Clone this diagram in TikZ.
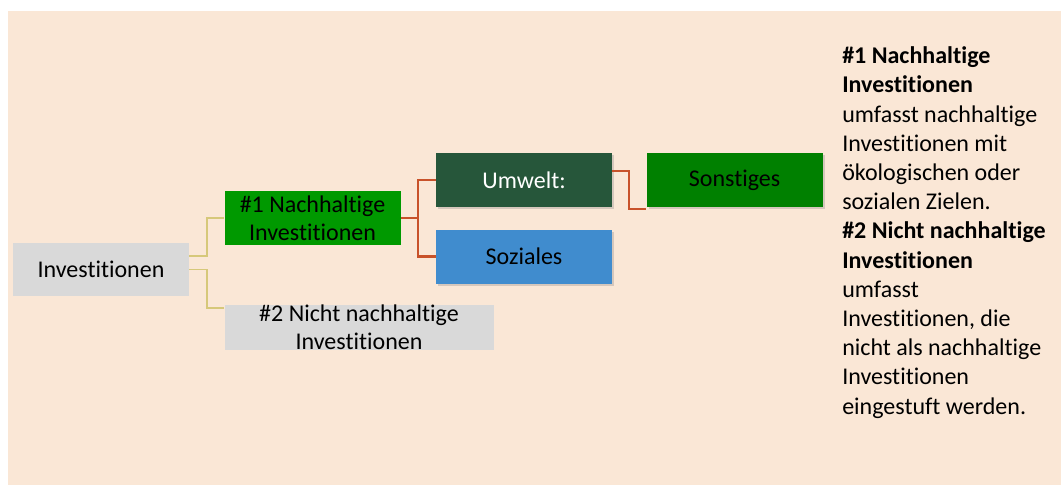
\documentclass[tikz,border=0pt]{standalone}
\usepackage{fontspec}
\setmainfont{Carlito}[Ligatures=NoCommon]
\usetikzlibrary{positioning,shadows}

\definecolor{bg}{RGB}{250,231,214}
\definecolor{grey}{RGB}{217,217,217}
\definecolor{nachgreen}{RGB}{0,153,0}
\definecolor{umwgreen}{RGB}{38,86,58}
\definecolor{sozblue}{RGB}{64,140,206}
\definecolor{sonsgreen}{RGB}{0,128,0}
\definecolor{khaki}{RGB}{214,200,122}
\definecolor{rust}{RGB}{200,82,42}

\begin{document}
\begin{tikzpicture}[x=0.75pt,y=-0.75pt,
    box/.style={align=center,inner sep=0pt,minimum width=132pt,minimum height=40.5pt,font=\fontsize{18}{21}\selectfont},
    shade/.style={drop shadow={opacity=0.3,shadow xshift=1.5pt,shadow yshift=-1.5pt}},
    linea/.style={khaki,line width=1.3pt},
    lineb/.style={rust,line width=1.7pt}]
    \useasboundingbox (0,0) rectangle (1061,485);
    \fill[bg] (8,11) rectangle (1061,485);

    \draw
        node[box,fill=grey,minimum height=40pt] (inv) at (101,269.5) {Investitionen}
        node[box,fill=nachgreen,right=26.25pt of inv,yshift=38.6pt] (nach) {\#1 Nachhaltige\\Investitionen}
        node[box,fill=grey,minimum width=201.75pt,minimum height=33.75pt,below right=44.25pt and 0pt of nach.south west] (nicht) {\#2 Nicht nachhaltige\\Investitionen}

        node[box,shade,fill=umwgreen,text=white,right=26.25pt of nach,yshift=28.5pt] (umw) {Umwelt:}
        node[box,shade,fill=sozblue,below=16.5pt of umw] (soz) {Soziales}
        node[box,shade,fill=sonsgreen,right=25.5pt of umw] (sons) {Sonstiges}

        node[align=left,anchor=north west,inner sep=0pt,font=\fontsize{18}{21.9}\selectfont] (info) at (842,46.5)
            {\textbf{\#1 Nachhaltige}\\\textbf{Investitionen}\\umfasst nachhaltige\\Investitionen mit\\ökologischen oder\\sozialen Zielen.\\
             \textbf{\#2 Nicht nachhaltige}\\\textbf{Investitionen}\\umfasst\\Investitionen, die\\nicht als nachhaltige\\Investitionen\\eingestuft werden.}
    ;
    \draw[linea] ([yshift=10pt]inv.east) -- ++(18,0) |- (nach.west);
    \draw[linea] (inv.east) -- ++(18,0) |- ([yshift=-3pt]nicht.north west);

    \draw[lineb] (nach.east) -- ++(17,0) |- (umw.west);
    \draw[lineb] (nach.east) -- ++(17,0) |- (soz.west);
    \draw[lineb] ([yshift=7pt]umw.east) -- ++(17,0) |- ([yshift=-1.2pt]sons.south west);
\end{tikzpicture}
\end{document}
